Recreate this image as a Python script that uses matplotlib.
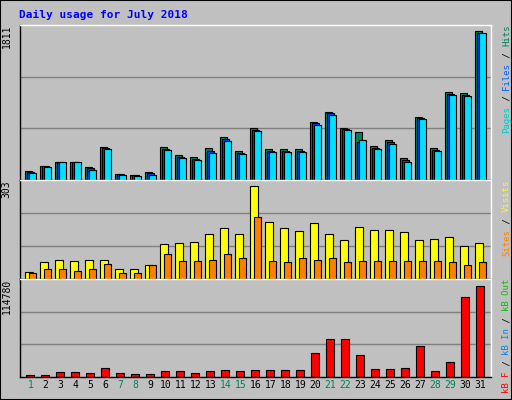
import matplotlib
matplotlib.use("Agg")
import matplotlib.pyplot as plt
from matplotlib.patches import Rectangle

days = list(range(1, 32))
weekend = [1, 7, 8, 14, 15, 21, 22, 28, 29]
hits = [115,176,225,225,156,397,78,66,102,397,299,274,385,520,348,631,373,373,373,709,828,631,582,410,483,262,766,385,1065,1053,1811]
files = [100,170,225,220,140,385,72,60,84,380,280,255,350,495,330,612,355,355,355,690,810,620,460,395,460,245,755,365,1050,1040,1795]
pages = [90,164,225,213,127,373,66,53,66,360,262,238,324,471,311,594,336,336,336,668,791,606,483,373,434,225,742,348,1037,1024,1786]
visits = [24,54,63,60,63,63,34,31,44,113,116,119,146,165,146,303,185,165,155,182,146,126,168,159,159,152,126,129,136,106,116]
sites = [18,31,31,27,34,50,21,18,44,80,60,60,63,80,70,201,60,54,67,63,67,54,60,60,60,57,57,57,54,47,54]
kbytes = [2900,2900,6700,6700,5400,11700,5400,4200,4200,8000,8000,5400,8000,9200,8000,9200,9200,9200,9200,30600,48200,48200,28100,10500,10500,11700,39400,8000,19300,101000,114780]

W, H = 512, 400
fig = plt.figure(figsize=(W/100, H/100), dpi=100)
fig.patch.set_facecolor('#C0C0C0')
mono = 'DejaVu Sans Mono'
fig.add_artist(Rectangle((0, 0), 1, 1, transform=fig.transFigure, fill=False, ec='black', lw=1.5))
fig.text(19/W, 1-15/H, 'Daily usage for July 2018', color='#0000FF', fontsize=8,
         fontweight='bold', family=mono, va='center')

def mkax(top, bot):
    ax = fig.add_axes([20/W, 1-bot/H, 471/W, (bot-top)/H])
    ax.set_facecolor('#C0C0C0')
    ax.set_xlim(0.35, 31.75)
    ax.set_xticks([])
    ax.set_yticks([])
    for s in ax.spines.values():
        s.set_color('black'); s.set_linewidth(1)
    ax.spines['top'].set_color('white'); ax.spines['right'].set_color('white')
    return ax

def grid(ax, vmax, top_frac):
    ylim = vmax / top_frac
    ax.set_ylim(0, ylim)
    for f in (1/3, 2/3):
        ax.axhline(ylim*f, color='#808080', lw=1, zorder=0)

ec = 'black'
ax1 = mkax(25, 180)
grid(ax1, max(hits), 0.96)
for d, h, f, p in zip(days, hits, files, pages):
    ax1.bar(d-0.33, h, width=0.5, align='edge', color='#00805C', ec=ec, lw=0.8, zorder=2)
    ax1.bar(d-0.2, f, width=0.5, align='edge', color='#0040FF', ec=ec, lw=0.8, zorder=3)
    ax1.bar(d-0.07, p, width=0.5, align='edge', color='#00E0FF', ec=ec, lw=0.8, zorder=4)

ax2 = mkax(180, 279)
grid(ax2, max(visits), 0.94)
ax2.bar([d-0.33 for d in days], visits, width=0.55, align='edge', color='#FFFF00', ec=ec, lw=0.8, zorder=2)
ax2.bar([d-0.07 for d in days], sites, width=0.5, align='edge', color='#FF8000', ec=ec, lw=0.8, zorder=3)

ax3 = mkax(279, 377)
grid(ax3, max(kbytes), 0.93)
ax3.bar([d+0.02 for d in days], kbytes, width=0.5, color='#FF0000', ec=ec, lw=0.8, zorder=2)

for ax, lab in ((ax1, '1811'), (ax2, '303'), (ax3, '114780')):
    ax.text(-0.018, 1.0, lab, transform=ax.transAxes, rotation=90, ha='right', va='top',
            fontsize=7, family=mono)

for d in days:
    ax3.text(d+0.05, -0.03, str(d), transform=ax3.get_xaxis_transform(), ha='center', va='top',
             fontsize=7, family=mono, color='#00805C' if d in weekend else 'black')

FS = 6.5
CW = 0.602 * FS  # char advance in points
def rlegend(ax, parts):
    off = 0.0
    for t, c in reversed(parts):
        ax.annotate(t, xy=(1.033, 1.0), xycoords='axes fraction', xytext=(0, -off),
                    textcoords='offset points', rotation=90, ha='center', va='top',
                    fontsize=FS, family=mono, color=c)
        off += len(t) * CW

rlegend(ax1, [('Pages', '#00C8C8'), (' / ', 'black'), ('Files', '#0060FF'), (' / ', 'black'), ('Hits', '#00805C')])
rlegend(ax2, [('Sites', '#FF8000'), (' / ', 'black'), ('Visits', '#FFFF00')])
rlegend(ax3, [('kB F', '#FF0000'), (' / ', 'black'), ('kB In', '#0080FF'), (' / ', 'black'), ('kB Out', '#00C000')])

fig.savefig('out.png', dpi=100, facecolor=fig.get_facecolor())
